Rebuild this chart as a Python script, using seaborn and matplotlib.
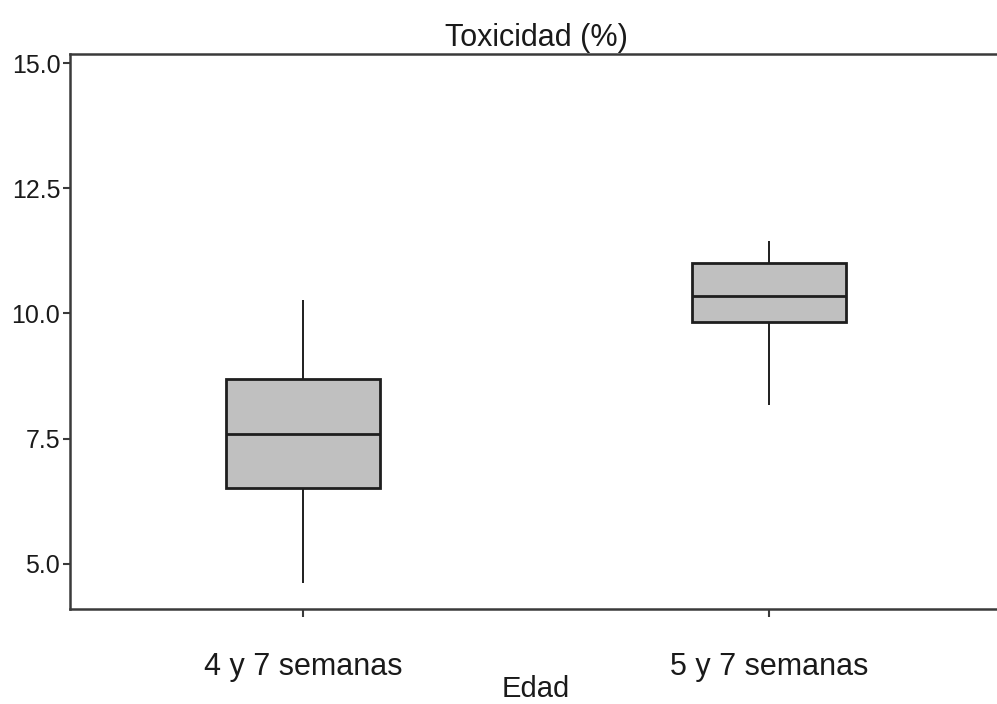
import pandas as pd
import seaborn as sns
import matplotlib.pyplot as plt

# -----------------------------
# Data (five-number summaries)
# -----------------------------
groups = ["4 y 7 semanas", "5 y 7 semanas"]
tox_4y7 = [4.62, 6.52, 7.59, 8.69, 10.27]
tox_5y7 = [8.17, 9.83, 10.35, 11.01, 11.45]
yticks = [5.0, 7.5, 10.0, 12.5, 15.0]

df = pd.DataFrame({
    "Edad": [groups[0]] * len(tox_4y7) + [groups[1]] * len(tox_5y7),
    "Toxicidad": tox_4y7 + tox_5y7,
})

# -----------------------------
# Style
# -----------------------------
sns.set_theme(style="ticks")
plt.rcParams["font.family"] = ["Liberation Sans", "DejaVu Sans"]
txt = "#1a1a1a"

fig = plt.figure(figsize=(9.97, 7.04), dpi=100)
ax = fig.add_axes([70 / 997, 95 / 704, 932 / 997, 555 / 704])

sns.boxplot(
    data=df, x="Edad", y="Toxicidad", ax=ax,
    width=0.33, whis=(0, 100), color="#c0c0c0", saturation=1,
    linecolor="#1e1e1e", linewidth=2.0,
    whiskerprops={"linewidth": 1.4, "color": "#1e1e1e"},
    capprops={"visible": False},
    medianprops={"linewidth": 2.0, "color": "#1e1e1e"},
)

ax.set_xlim(-0.5, 1.5)
ax.set_ylim(4.10, 15.18)
ax.set_yticks(yticks)
ax.set_yticklabels([f"{v:.1f}" for v in yticks])

for side in ["left", "bottom", "top"]:
    ax.spines[side].set_color("#3a3a3a")
    ax.spines[side].set_linewidth(1.8)
ax.spines["right"].set_visible(False)

ax.tick_params(axis="y", length=5, width=1.5, color="#3a3a3a", pad=2,
               labelsize=18, labelcolor=txt)
ax.tick_params(axis="x", length=6, width=1.5, color="#3a3a3a", pad=25,
               labelsize=22, labelcolor=txt)

ax.set_title("Toxicidad (%)", fontsize=22, color=txt, pad=6)
ax.set_xlabel("Edad", fontsize=21, color=txt, labelpad=-5)
ax.set_ylabel("")

fig.savefig("out.png", dpi=100)
plt.close(fig)
